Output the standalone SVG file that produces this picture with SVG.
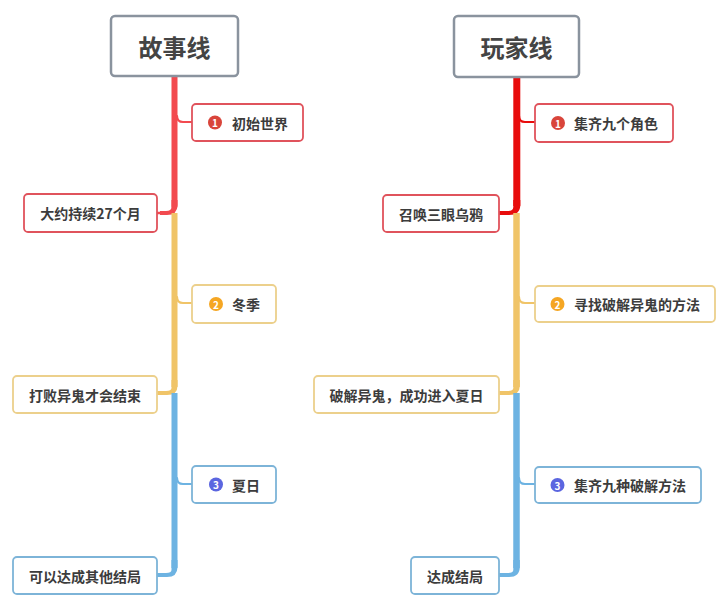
<svg xmlns="http://www.w3.org/2000/svg" width="720" height="606" viewBox="0 0 720 606">
<style>
text{font-family:"Noto Sans CJK SC","Noto Sans",sans-serif;font-weight:bold;fill:#3c3c3c;dominant-baseline:central}
.t{font-size:14px}
.title{font-size:24px;text-anchor:middle;fill:#444}
.tb{fill:#fff;stroke:#8a939e;stroke-width:2.5}
.nb{fill:#fff;stroke-width:1.8}
.r{stroke:#e0535c}.y{stroke:#ecd08c}.b{stroke:#7db4d8}
.badge{font-size:10px;fill:#fff;text-anchor:middle}
.c{fill:none;stroke-linecap:round}
</style>
<g id="connectors">
<path class="c" d="M174.5 77 V206" stroke="#f24a4f" stroke-width="6"/>
<path class="c" d="M174.5 206 Q174.5 213 166 213 H157" stroke="#f24a4f" stroke-width="2.5" fill="none"/>
<path d="M171.5 200 V207 Q171.5 211 166 211 H160 V215 H167 Q177.5 215 177.5 205 V200 Z" fill="#f24a4f"/>
<path class="c" d="M177 116 Q177 122 183 122 H192" stroke="#f24a4f" stroke-width="2.2"/>
<path d="M174.5 213 V387" stroke="#f0c468" stroke-width="6" fill="none"/>
<path d="M171.5 380 V388 Q171.5 391 166 391 H157 V395 H167 Q177.5 395 177.5 386 V380 Z" fill="#f0c468"/>
<path class="c" d="M177 297 Q177 303 183 303 H192" stroke="#f0c468" stroke-width="2.2"/>
<path d="M174.5 393 V568" stroke="#6db3e2" stroke-width="6" fill="none"/>
<path d="M171.5 560 V570 Q171.5 573 166 573 H157 V577 H167 Q177.5 577 177.5 567 V560 Z" fill="#6db3e2"/>
<path class="c" d="M177 478 Q177 484 183 484 H192" stroke="#6db3e2" stroke-width="2.2"/>
<path d="M516.8 77 V206" stroke="#e80c0c" stroke-width="7" fill="none"/>
<path d="M513.3 200 V207 Q513.3 211 508 211 H499 V215 H509 Q520.3 215 520.3 205 V200 Z" fill="#e80c0c"/>
<path class="c" d="M519 116 Q519 122 525 122 H535" stroke="#e80c0c" stroke-width="2.2"/>
<path d="M516.5 213 V387" stroke="#f0c468" stroke-width="6.5" fill="none"/>
<path d="M513.3 380 V388 Q513.3 391 508 391 H499 V395 H509 Q519.8 395 519.8 386 V380 Z" fill="#f0c468"/>
<path class="c" d="M519 297 Q519 303 525 303 H535" stroke="#f0c468" stroke-width="2.2"/>
<path d="M516.5 393 V568" stroke="#6db3e2" stroke-width="6.5" fill="none"/>
<path d="M513.3 560 V570 Q513.3 573 508 573 H499 V577 H509 Q519.8 577 519.8 567 V560 Z" fill="#6db3e2"/>
<path class="c" d="M519 478 Q519 484 525 484 H535" stroke="#6db3e2" stroke-width="2.2"/>
</g>
<g id="title-left"><rect class="tb" x="111" y="16" width="127" height="60" rx="4"/><text class="title" x="174.5" y="46">故事线</text></g>
<g id="title-right"><rect class="tb" x="454" y="16" width="125" height="61" rx="4"/><text class="title" x="516.5" y="46">玩家线</text></g>

<g id="n-l1"><rect class="nb r" x="192" y="104" width="111" height="37" rx="4"/><circle cx="215" cy="122.5" r="7" fill="#d9453b"/><text class="badge" x="215" y="122.5">1</text><text class="t" x="232" y="122.5">初始世界</text></g>
<g id="n-l1b"><rect class="nb r" x="24" y="194" width="133" height="38" rx="4"/><text class="t" x="90.5" y="213" text-anchor="middle">大约持续27个月</text></g>
<g id="n-l2"><rect class="nb y" x="192" y="285" width="84" height="38" rx="4"/><circle cx="216" cy="304" r="7" fill="#f5a623"/><text class="badge" x="216" y="304">2</text><text class="t" x="232" y="304">冬季</text></g>
<g id="n-l2b"><rect class="nb y" x="13" y="376" width="144" height="37" rx="4"/><text class="t" x="85" y="394.5" text-anchor="middle">打败异鬼才会结束</text></g>
<g id="n-l3"><rect class="nb b" x="192" y="466" width="84" height="37" rx="4"/><circle cx="216" cy="484.5" r="7" fill="#5b66e0"/><text class="badge" x="216" y="484.5">3</text><text class="t" x="232" y="484.5">夏日</text></g>
<g id="n-l3b"><rect class="nb b" x="13" y="557" width="144" height="37" rx="4"/><text class="t" x="85" y="575.5" text-anchor="middle">可以达成其他结局</text></g>

<g id="n-r1"><rect class="nb r" x="535" y="104" width="138" height="38" rx="4"/><circle cx="558" cy="123" r="7" fill="#d9453b"/><text class="badge" x="558" y="123">1</text><text class="t" x="574" y="123">集齐九个角色</text></g>
<g id="n-r1b"><rect class="nb r" x="383" y="195" width="116" height="37" rx="4"/><text class="t" x="441" y="213.5" text-anchor="middle">召唤三眼乌鸦</text></g>
<g id="n-r2"><rect class="nb y" x="535" y="286" width="180" height="36" rx="4"/><circle cx="557.5" cy="304" r="7" fill="#f5a623"/><text class="badge" x="557.5" y="304">2</text><text class="t" x="574" y="304">寻找破解异鬼的方法</text></g>
<g id="n-r2b"><rect class="nb y" x="314" y="376" width="185" height="37" rx="4"/><text class="t" x="406.5" y="394.5" text-anchor="middle">破解异鬼，成功进入夏日</text></g>
<g id="n-r3"><rect class="nb b" x="535" y="467" width="166" height="36" rx="4"/><circle cx="557.5" cy="485" r="7" fill="#5b66e0"/><text class="badge" x="557.5" y="485">3</text><text class="t" x="574" y="485">集齐九种破解方法</text></g>
<g id="n-r3b"><rect class="nb b" x="411" y="557" width="88" height="37" rx="4"/><text class="t" x="455" y="575.5" text-anchor="middle">达成结局</text></g>
</svg>
